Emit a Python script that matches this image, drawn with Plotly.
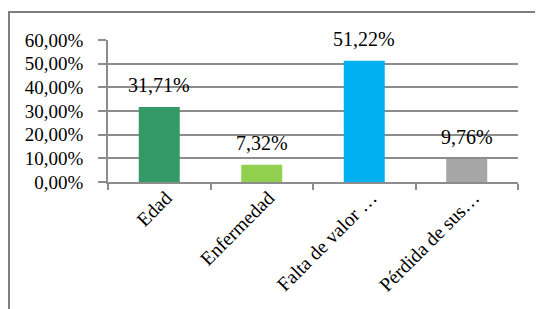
import plotly.graph_objects as go

categories = ["Edad", "Enfermedad", "Falta de valor …", "Pérdida de sus…"]
values = [0.3171, 0.0732, 0.5122, 0.0976]
value_labels = ["31,71%", "7,32%", "51,22%", "9,76%"]
colors = ["#339966", "#92D050", "#00B0F0", "#A6A6A6"]
tick_vals = [0, 0.1, 0.2, 0.3, 0.4, 0.5, 0.6]
tick_text = ["0,00%", "10,00%", "20,00%", "30,00%", "40,00%", "50,00%", "60,00%"]

FONT = "Liberation Serif"
GRID = "#8c8c8c"

fig = go.Figure()
fig.add_trace(go.Bar(x=categories, y=values, marker=dict(color=colors, line=dict(width=0)),
                     width=0.4, hoverinfo="skip"))

for c, v, t in zip(categories, values, value_labels):
    fig.add_annotation(x=c, y=v, text=t, showarrow=False, yanchor="bottom", yshift=9,
                       font=dict(family=FONT, size=20, color="#000000"))

# page body has an 8px margin, so figure coordinates = window coordinates - 8
W, H = 535, 301
L, T, PW, PH = 100, 32, 410, 142
def px(x): return (x - L) / PW
def py(y): return (T + PH - y) / PH
fig.add_shape(type="line", xref="paper", yref="paper", x0=px(1), x1=px(1), y0=py(4), y1=py(320),
              line=dict(color="#7f7f7f", width=2))
fig.add_shape(type="line", xref="paper", yref="paper", x0=px(0), x1=px(560), y0=py(4), y1=py(4),
              line=dict(color="#7f7f7f", width=2))

fig.update_layout(
    width=W, height=H,
    margin=dict(l=L, r=W - L - PW, t=T, b=H - T - PH, autoexpand=False),
    paper_bgcolor="white", plot_bgcolor="white",
    showlegend=False,
    font=dict(family=FONT, size=19, color="#000000"),
    bargap=0.6,
)
fig.update_yaxes(range=[0, 0.6], tickvals=tick_vals, ticktext=tick_text,
                 showgrid=True, gridcolor=GRID, gridwidth=1.5,
                 showline=True, linecolor=GRID, linewidth=1.5,
                 ticks="outside", ticklen=8, tickcolor=GRID, tickwidth=1.5,
                 ticklabelstandoff=11,
                 tickfont=dict(family=FONT, size=19), zeroline=False, fixedrange=True,
                 automargin=False)
fig.update_xaxes(tickangle=-45, tickson="boundaries", ticks="outside", ticklen=6,
                 tickcolor=GRID, tickwidth=1.5, showline=True, linecolor=GRID, linewidth=1.5,
                 ticklabelstandoff=-5, ticklabelshift=7,
                 showgrid=False, tickfont=dict(family=FONT, size=19.5), fixedrange=True,
                 automargin=False)

fig.write_html("out.html")
